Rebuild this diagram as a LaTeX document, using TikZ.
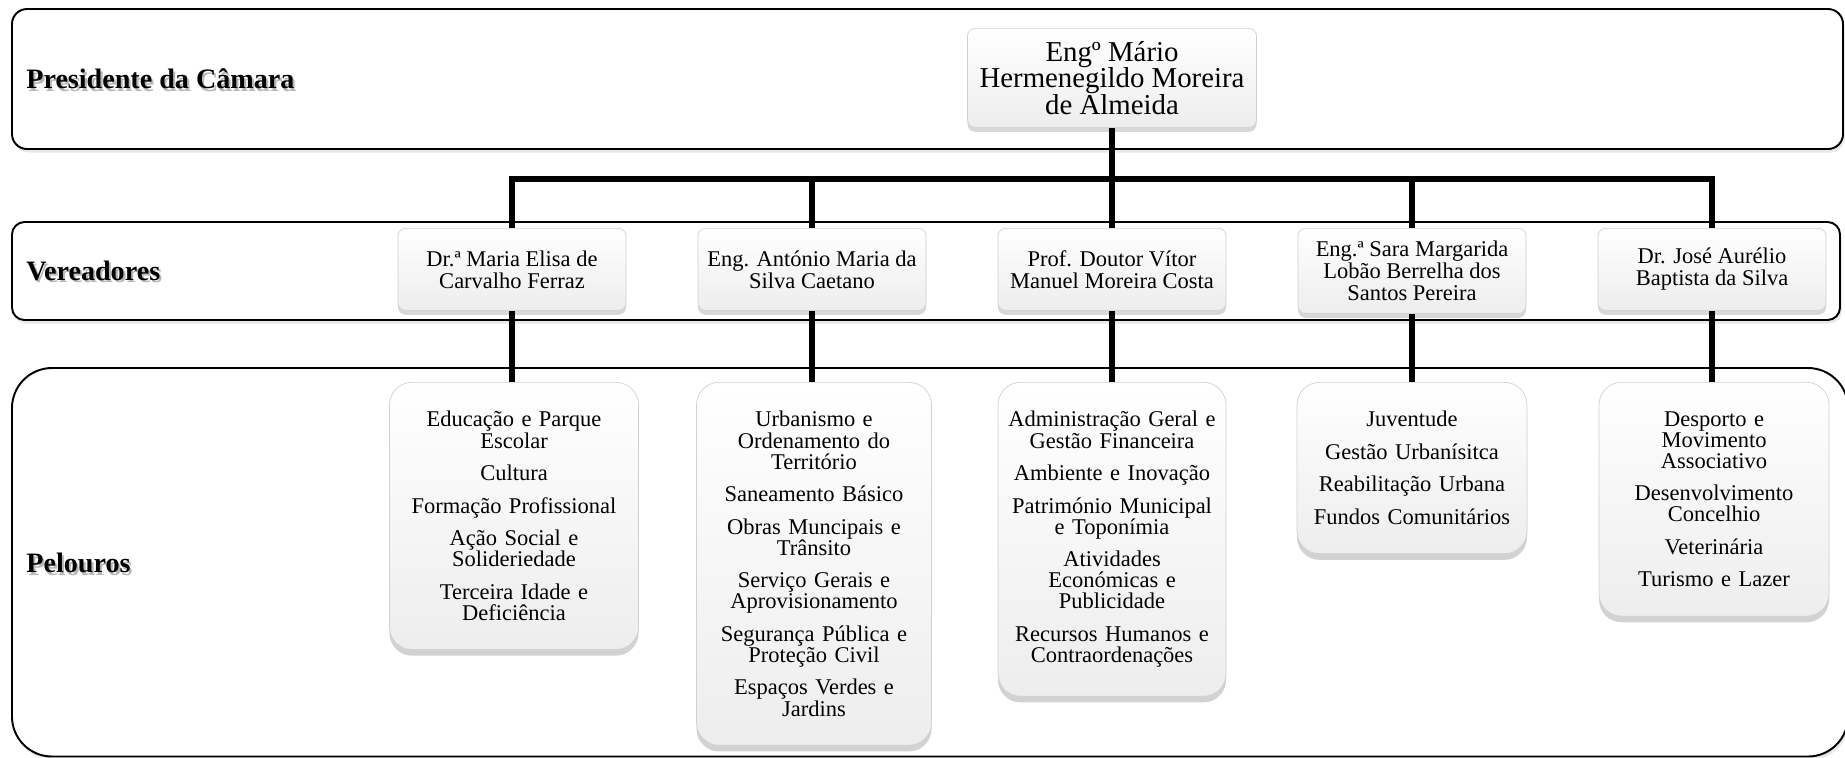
\documentclass[tikz,border=0pt]{standalone}
\usepackage{fontspec}
\setmainfont{Liberation Serif}
\usetikzlibrary{shadows}

% bold row titles get a soft grey copy underneath
\newcommand{\softtitle}[1]{\makebox[0pt][l]{\hspace{1.2pt}\raisebox{-1.6pt}{\color{black!28}#1}}#1}

\tikzset{
    band/.style={draw=black, line width=1.1pt, fill=white, rounded corners=#1,
        drop shadow={shadow xshift=1pt, shadow yshift=-2pt, opacity=0.18}},
    rowtitle/.style={anchor=west, inner sep=0pt, font=\fontsize{16}{18}\selectfont\bfseries},
    link/.style={line width=3pt},
    person/.style={draw=black!18, line width=0.4pt, rounded corners=0.15cm,
        top color=white, middle color=white, bottom color=black!7,
        drop shadow={shadow xshift=0pt, shadow yshift=-2.5pt, opacity=0.3},
        align=center, anchor=north, inner sep=2pt,
        minimum width=4.56cm, minimum height=1.64cm,
        font=\fontsize{12.8}{12.5}\selectfont},
    duty/.style={draw=black!18, line width=0.4pt, rounded corners=0.45cm,
        top color=white, middle color=white, bottom color=black!7,
        drop shadow={shadow xshift=0pt, shadow yshift=-3.5pt, opacity=0.35},
        align=center, anchor=north, inner xsep=0.1cm, inner ysep=0.58cm,
        text width=#1, font=\fontsize{12.8}{12}\selectfont}
}

\begin{document}
\begin{tikzpicture}
    \useasboundingbox (0,0) rectangle (36.9,-15.14);

    % the three rows
    \draw[band=0.3cm] (0.24,-0.18) rectangle (36.86,-2.98);
    \draw[band=0.25cm] (0.24,-4.44) rectangle (36.80,-6.40);
    \draw[band=0.8cm] (0.24,-7.36) rectangle (36.96,-15.13);

    \node[rowtitle] (tpres) at (0.52,-1.6) {\softtitle{Presidente da Câmara}};
    \node[rowtitle] (tver) at (0.52,-5.44) {\softtitle{Vereadores}};
    \node[rowtitle] (tpel) at (0.52,-11.28) {\softtitle{Pelouros}};

    \coordinate (bus) at (22.24,-3.58);

    % president
    \node[person, minimum width=5.78cm, minimum height=1.98cm,
        font=\fontsize{16.4}{15}\selectfont] (pres) at (22.24,-0.56)
        {Engº Mário\\Hermenegildo Moreira\\de Almeida};

    % councillors
    \node[person] (ver1) at (10.24,-4.56) {Dr.ª Maria Elisa de\\Carvalho Ferraz};
    \node[person] (ver2) at (16.24,-4.56) {Eng. António Maria da\\Silva Caetano};
    \node[person] (ver3) at (22.24,-4.56) {Prof. Doutor Vítor\\Manuel Moreira Costa};
    \node[person, minimum height=1.7cm] (ver4) at (28.24,-4.56) {Eng.ª Sara Margarida\\Lobão Berrelha dos\\Santos Pereira};
    \node[person] (ver5) at (34.24,-4.56) {Dr. José Aurélio\\Baptista da Silva};

    % portfolios
    \node[duty=4.78cm] (pel1) at (10.28,-7.64)
        {Educação e Parque\\Escolar\\[6.5pt]Cultura\\[6.5pt]Formação Profissional\\[6.5pt]Ação Social e\\Solideriedade\\[6.5pt]Terceira Idade e\\Deficiência};
    \node[duty=4.5cm] (pel2) at (16.28,-7.64)
        {Urbanismo e\\Ordenamento do\\Território\\[6.5pt]Saneamento Básico\\[6.5pt]Obras Muncipais e\\Trânsito\\[6.5pt]Serviço Gerais e\\Aprovisionamento\\[6.5pt]Segurança Pública e\\Proteção Civil\\[6.5pt]Espaços Verdes e\\Jardins};
    \node[duty=4.36cm] (pel3) at (22.24,-7.64)
        {Administração Geral e\\Gestão Financeira\\[6.5pt]Ambiente e Inovação\\[6.5pt]Património Municipal\\e Toponímia\\[6.5pt]Atividades\\Económicas e\\Publicidade\\[6.5pt]Recursos Humanos e\\Contraordenações};
    \node[duty=4.4cm] (pel4) at (28.24,-7.64)
        {Juventude\\[6.5pt]Gestão Urbanísitca\\[6.5pt]Reabilitação Urbana\\[6.5pt]Fundos Comunitários};
    \node[duty=4.4cm] (pel5) at (34.28,-7.64)
        {Desporto e\\Movimento\\Associativo\\[6.5pt]Desenvolvimento\\Concelhio\\[6.5pt]Veterinária\\[6.5pt]Turismo e Lazer};

    % connectors
    \draw[link] (pres.south) -- (bus);
    \draw[link] (ver1.north) -- (ver1.north |- bus) -- (ver5.north |- bus) -- (ver5.north);
    \foreach \i in {2,3,4}
        \draw[link] (ver\i.north) -- (ver\i.north |- bus);
    \foreach \i in {1,...,5}
        \draw[link] (ver\i.south) -- (ver\i.south |- pel\i.north);
\end{tikzpicture}
\end{document}
